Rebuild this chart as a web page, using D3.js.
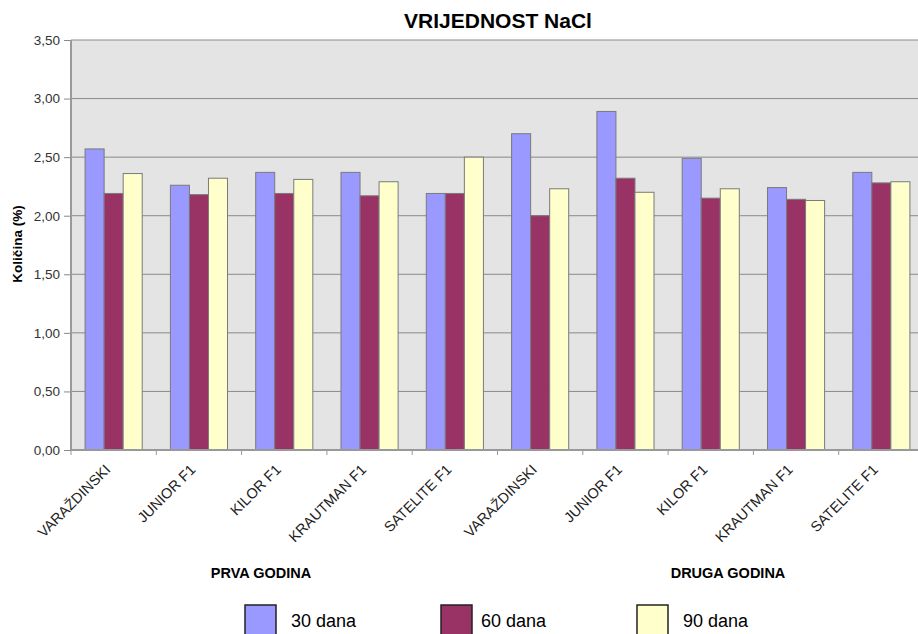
<!DOCTYPE html>
<html>
<head>
<meta charset="utf-8">
<script src="https://cdn.jsdelivr.net/npm/d3@7"></script>
<style>
  body { margin: 0; background: #fff; }
  svg text { font-family: Arial, "Liberation Sans", sans-serif; fill: #000; }
</style>
</head>
<body>
<div class="plot"></div>
<script>
// data
var categories = ["VARAŽDINSKI", "JUNIOR F1", "KILOR F1", "KRAUTMAN F1", "SATELITE F1",
                  "VARAŽDINSKI", "JUNIOR F1", "KILOR F1", "KRAUTMAN F1", "SATELITE F1"];
var series = ["30 dana", "60 dana", "90 dana"];
var colors = ["#9999FF", "#993366", "#FFFFCC"];
var dana30 = [2.57, 2.26, 2.37, 2.37, 2.19, 2.70, 2.89, 2.49, 2.24, 2.37];
var dana60 = [2.19, 2.18, 2.19, 2.17, 2.19, 2.00, 2.32, 2.15, 2.14, 2.28];
var dana90 = [2.36, 2.32, 2.31, 2.29, 2.50, 2.23, 2.20, 2.23, 2.13, 2.29];
var yTicks = [0, 0.5, 1, 1.5, 2, 2.5, 3, 3.5];
var groupLabels = ["PRVA GODINA", "DRUGA GODINA"];

var values = [dana30, dana60, dana90];

var width = 918,
    height = 634,
    plotL = 71, plotR = 924, plotT = 40, plotB = 450;

var fmt = function(v) { return d3.format(".2f")(v).replace(".", ","); };

var svg = d3.select(".plot").append("svg")
    .attr("width", width)
    .attr("height", height);

var x0 = d3.scaleBand()
    .domain(d3.range(categories.length))
    .range([plotL, plotR])
    .padding(0);

var x1 = d3.scaleBand()
    .domain(d3.range(series.length))
    .range([0, x0.bandwidth()])
    .paddingInner(0)
    .paddingOuter(0.74);

var y = d3.scaleLinear()
    .domain([0, 3.5])
    .range([plotB, plotT]);

// plot background
svg.append("rect")
    .attr("x", plotL)
    .attr("y", plotT)
    .attr("width", plotR - plotL)
    .attr("height", plotB - plotT)
    .style("fill", "#E4E4E4");

// left ticks + labels
var yAxis = svg.append("g")
    .attr("transform", "translate(" + plotL + ",0)")
    .call(d3.axisLeft(y).tickValues(yTicks).tickSize(7).tickFormat(fmt).tickPadding(4));
yAxis.select(".domain").remove();
yAxis.selectAll(".tick line").attr("stroke", "#888");
yAxis.selectAll(".tick text")
    .attr("font-family", null)
    .attr("font-size", null)
    .style("font-size", "13.5px")
    .style("fill", "#333");

// gridlines
svg.append("g").selectAll("line")
    .data(yTicks)
  .enter().append("line")
    .attr("x1", plotL)
    .attr("x2", plotR)
    .attr("y1", function(d) { return y(d); })
    .attr("y2", function(d) { return y(d); })
    .style("stroke", "#8a8a8a")
    .style("stroke-width", 1);

// bars
var group = svg.append("g").selectAll(".grp")
    .data(categories)
  .enter().append("g")
    .attr("class", "grp")
    .attr("transform", function(d, i) { return "translate(" + x0(i) + ",0)"; });

group.selectAll("rect")
    .data(function(d, i) { return values.map(function(s, j) { return {s: j, v: s[i]}; }); })
  .enter().append("rect")
    .attr("x", function(d) { return x1(d.s); })
    .attr("y", function(d) { return y(d.v); })
    .attr("width", x1.bandwidth())
    .attr("height", function(d) { return y(0) - y(d.v); })
    .style("fill", function(d) { return colors[d.s]; })
    .style("stroke", "#7a7a7a")
    .style("stroke-width", 1);

// axis lines
svg.append("line")
    .attr("x1", plotL).attr("x2", plotL)
    .attr("y1", plotT).attr("y2", plotB)
    .style("stroke", "#999").style("stroke-width", 2);

var xAxis = svg.append("g")
    .attr("transform", "translate(0," + plotB + ")");
xAxis.append("line")
    .attr("x1", plotL).attr("x2", plotR)
    .style("stroke", "#999").style("stroke-width", 2);
xAxis.selectAll(".tk")
    .data(d3.range(categories.length + 1))
  .enter().append("line")
    .attr("class", "tk")
    .attr("x1", function(i) { return plotL + i * x0.step(); })
    .attr("x2", function(i) { return plotL + i * x0.step(); })
    .attr("y1", 0).attr("y2", 5)
    .style("stroke", "#999");

xAxis.selectAll("text")
    .data(categories)
  .enter().append("text")
    .attr("transform", function(d, i) {
      return "translate(" + (x0(i) + x0.bandwidth() / 2 - 6) + ",17) rotate(-45)";
    })
    .attr("dy", "0.35em")
    .style("text-anchor", "end")
    .style("font-size", "14.5px")
    .style("fill", "#222")
    .text(function(d) { return d; });

// group labels
svg.selectAll(".glab")
    .data(groupLabels)
  .enter().append("text")
    .attr("class", "glab")
    .attr("x", function(d, i) { return i === 0 ? 261 : 728; })
    .attr("y", 578)
    .style("text-anchor", "middle")
    .style("font-size", "14.5px")
    .style("font-weight", "bold")
    .text(function(d) { return d; });

// title
svg.append("text")
    .attr("x", 498)
    .attr("y", 28)
    .style("text-anchor", "middle")
    .style("font-size", "21px")
    .style("font-weight", "bold")
    .text("VRIJEDNOST NaCl");

// y axis title
svg.append("text")
    .attr("transform", "translate(22,244) rotate(-90)")
    .style("text-anchor", "middle")
    .style("font-size", "13.5px")
    .style("font-weight", "bold")
    .text("Količina (%)");

// legend
var lx = d3.scalePoint().domain(series).range([245, 637]);
var leg = svg.selectAll(".leg")
    .data(series)
  .enter().append("g")
    .attr("class", "leg")
    .attr("transform", function(d) { return "translate(" + lx(d) + ",605)"; });
leg.append("rect")
    .attr("width", 31)
    .attr("height", 31)
    .style("fill", function(d, i) { return colors[i]; })
    .style("stroke", "#222")
    .style("stroke-width", 1.5);
leg.append("text")
    .attr("x", function(d, i) { return i === 1 ? 40 : 46; })
    .attr("y", 22)
    .style("font-size", "18px")
    .text(function(d) { return d; });
</script>
</body>
</html>
